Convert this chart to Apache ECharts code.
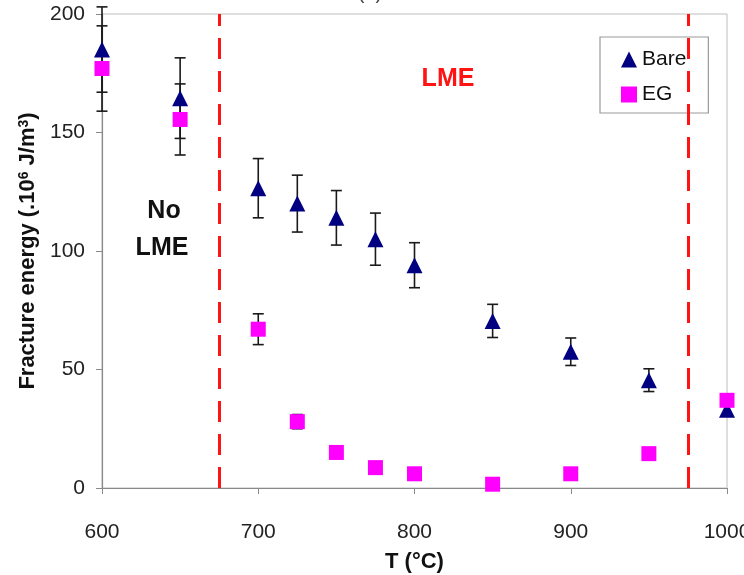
<!DOCTYPE html>
<html><head><meta charset="utf-8">
<script src="https://cdn.jsdelivr.net/npm/echarts@6/dist/echarts.min.js"></script>
<style>html,body{margin:0;padding:0;background:#fff}#c{width:744px;height:575px}</style>
</head><body><div id="c"></div>
<script>
// Data
const temps   = [600, 650, 700, 725, 750, 775, 800, 850, 900, 950, 1000];
const bare    = [185, 164.5, 126.5, 120, 114, 105, 94, 70.5, 57.5, 45.5, 33];
const bareErr = [18, 17, 12.5, 12, 11.5, 11, 9.5, 7, 5.8, 4.8, 0];
const eg      = [177, 155.5, 67, 28, 15, 8.6, 6, 1.6, 6, 14.5, 37];
const egErr   = [18, 15, 6.5, 3, 0, 0, 0, 0, 0, 0, 0];
const lmeBounds = [675, 975];
const xTicks = [600, 700, 800, 900, 1000];
const yTicks = [0, 50, 100, 150, 200];

const FONT = '"Liberation Sans", Arial, sans-serif';

function errData(vals, errs) {
  const out = [];
  temps.forEach((t, i) => { if (errs[i] > 0) out.push([t, vals[i] - errs[i], vals[i] + errs[i]]); });
  return out;
}
function errSeries(name, vals, errs) {
  return {
    name: name + ' err', type: 'custom', z: 2, silent: true,
    data: errData(vals, errs),
    renderItem: function (params, api) {
      const x = api.value(0);
      const lo = api.coord([x, api.value(1)]);
      const hi = api.coord([x, api.value(2)]);
      const hw = 5.5;
      const st = { stroke: '#1a1a1a', lineWidth: 1.6 };
      return { type: 'group', children: [
        { type: 'line', shape: { x1: lo[0], y1: lo[1], x2: hi[0], y2: hi[1] }, style: st },
        { type: 'line', shape: { x1: lo[0] - hw, y1: lo[1], x2: lo[0] + hw, y2: lo[1] }, style: st },
        { type: 'line', shape: { x1: hi[0] - hw, y1: hi[1], x2: hi[0] + hw, y2: hi[1] }, style: st }
      ]};
    }
  };
}

const chart = echarts.init(document.getElementById('c'), null, { renderer: 'canvas' });
chart.setOption({
  animation: false,
  backgroundColor: '#fff',
  textStyle: { fontFamily: FONT },
  grid: { left: 102, right: 17, top: 14, bottom: 87, show: true, borderColor: '#bdbdbd', borderWidth: 1,
          containLabel: false, outerBoundsMode: 'none' },
  xAxis: {
    type: 'value', min: xTicks[0], max: xTicks[xTicks.length - 1], interval: 100,
    axisLine: { show: true, lineStyle: { color: '#8a8a8a', width: 1.2 } },
    axisTick: { show: true, inside: false, length: 6, lineStyle: { color: '#8a8a8a' } },
    splitLine: { show: false },
    axisLabel: { color: '#222', fontSize: 21, margin: 34, fontFamily: FONT, formatter: v => String(v), hideOverlap: false },
    name: 'T (°C)', nameLocation: 'middle', nameGap: 63,
    nameTextStyle: { color: '#111', fontSize: 22, fontWeight: 'bold', fontFamily: FONT }
  },
  yAxis: {
    type: 'value', min: yTicks[0], max: yTicks[yTicks.length - 1], interval: 50,
    axisLine: { show: true, lineStyle: { color: '#8a8a8a', width: 1.2 } },
    axisTick: { show: true, inside: false, length: 6, lineStyle: { color: '#8a8a8a' } },
    splitLine: { show: false },
    axisLabel: { color: '#222', fontSize: 21, margin: 17, fontFamily: FONT },
    name: '{a|Fracture energy (.10}{s|6}{a| J/m}{s|3}{a|)}', nameLocation: 'middle', nameGap: 62,
    nameTextStyle: {
      color: '#111', fontFamily: FONT,
      rich: {
        a: { fontSize: 22, fontWeight: 'bold', color: '#111', fontFamily: FONT },
        s: { fontSize: 14, fontWeight: 'bold', color: '#111', verticalAlign: 'top', fontFamily: FONT }
      }
    }
  },
  legend: {
    orient: 'vertical', left: 600, top: 37,
    padding: [12, 22, 8, 21], itemGap: 14, itemWidth: 16, itemHeight: 16,
    borderColor: '#9a9a9a', borderWidth: 1.2, backgroundColor: '#fff',
    textStyle: { fontSize: 21, color: '#111', fontFamily: FONT },
    data: [{ name: 'Bare', icon: 'triangle' }, { name: 'EG', icon: 'rect' }]
  },
  series: [
    errSeries('Bare', bare, bareErr),
    errSeries('EG', eg, egErr),
    {
      name: 'Bare', type: 'scatter', symbol: 'triangle', symbolSize: 16, z: 3,
      itemStyle: { color: '#000080', opacity: 1 },
      data: temps.map((t, i) => [t, bare[i]]),
      markLine: {
        silent: true, symbol: ['none', 'none'], label: { show: false },
        lineStyle: { color: '#ff1414', width: 3, type: [21, 12], opacity: 1 },
        data: lmeBounds.map(v => [{ coord: [v, 0] }, { coord: [v, 200] }])
      }
    },
    {
      name: 'EG', type: 'scatter', symbol: 'rect', symbolSize: 15, z: 4,
      itemStyle: { color: '#ff00ff', opacity: 1 },
      data: temps.map((t, i) => [t, eg[i]])
    }
  ],
  graphic: [
    { type: 'text', style: { text: '(b)', font: '20px ' + FONT, fill: '#444', textAlign: 'center', textVerticalAlign: 'bottom', x: 370, y: 3 } },
    { type: 'text', style: { text: 'No', x: 164, y: 211, font: 'bold 25px ' + FONT, fill: '#111', textAlign: 'center', textVerticalAlign: 'middle' } },
    { type: 'text', style: { text: 'LME', x: 162, y: 248, font: 'bold 25px ' + FONT, fill: '#111', textAlign: 'center', textVerticalAlign: 'middle' } },
    { type: 'text', style: { text: 'LME', x: 448, y: 79, font: 'bold 25px ' + FONT, fill: '#ff1414', textAlign: 'center', textVerticalAlign: 'middle' } }
  ]
});
</script>
</body></html>
